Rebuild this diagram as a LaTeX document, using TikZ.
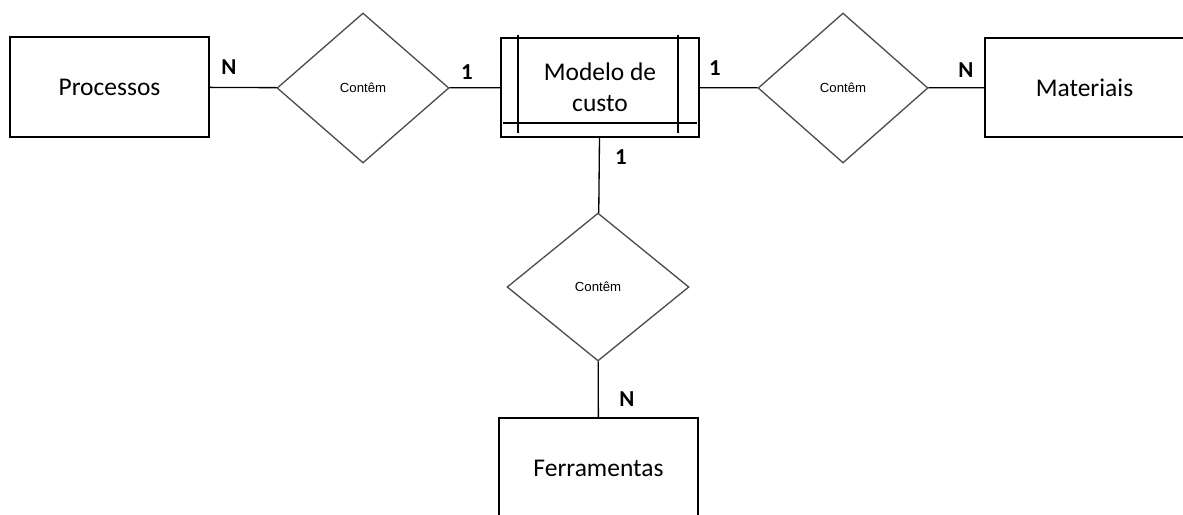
\documentclass[tikz,border=0pt]{standalone}
\usepackage{fontspec}
\setmainfont{Carlito}
\newfontfamily\arialfont{Liberation Sans}
\usetikzlibrary{shapes.geometric}
\tikzstyle{entity} = [draw=black, line width=0.75pt, minimum width=3.98cm, minimum height=2cm, inner sep=0pt, align=center, font=\fontsize{14.5}{17.6}\selectfont]
\tikzstyle{relation} = [draw=black!70, line width=0.75pt, diamond, inner sep=0pt, minimum width=3.44cm, minimum height=3cm, font=\arialfont\fontsize{7.5}{9}\selectfont]
\tikzstyle{card} = [inner sep=0pt, font=\fontsize{13}{15}\selectfont\bfseries]

\begin{document}
\begin{tikzpicture}[x=0.02cm, y=-0.02cm]
  \useasboundingbox (0,0) rectangle (1183,514);
  \node (proc) at (109.5,87) [entity] {Processos};
  \node (mod) at (600,87.5) [entity, minimum width=3.96cm, minimum height=1.98cm] {Modelo de\\custo};
  \node (mat) at (1084.5,87.5) [entity, minimum height=1.98cm] {Materiais};
  \node (ferr) at (598.5,468) [entity] {Ferramentas};
  \node (r1) at (363,88) [relation] {Contêm};
  \node (r2) at (843,88) [relation, minimum width=3.4cm] {Contêm};
  \node (r3) at (598,287) [relation, minimum width=3.64cm, minimum height=2.96cm] {Contêm};
  % weak entity lines
  \draw [line width=0.75pt] (518,35) -- (518,133);
  \draw [line width=0.75pt] (678,35) -- (678,133);
  \draw [line width=0.75pt] (503,123) -- (697,123);
  % connectors
  \draw [line width=0.75pt] (proc) -- (r1);
  \draw [line width=0.75pt] (r1) -- (mod);
  \draw [line width=0.75pt] (mod) -- (r2);
  \draw [line width=0.75pt] (r2) -- (mat);
  \draw [line width=0.75pt] (mod) -- (r3);
  \draw [line width=0.75pt] (r3) -- (ferr);
  % cardinalities
  \node (c1) at (229,67) [card] {N};
  \node (c2) at (467,72) [card] {1};
  \node (c3) at (715,68) [card] {1};
  \node (c4) at (966,70) [card] {N};
  \node (c5) at (621,157) [card] {1};
  \node (c6) at (627,399) [card] {N};
\end{tikzpicture}
\end{document}
